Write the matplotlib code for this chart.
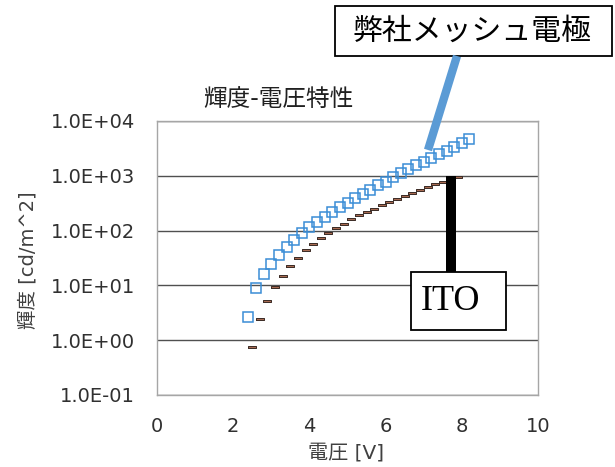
import matplotlib
matplotlib.use("Agg")
import matplotlib.pyplot as plt
from matplotlib.lines import Line2D
from matplotlib.patches import Rectangle
from matplotlib.ticker import FixedLocator, FixedFormatter

plt.rcParams['font.family'] = ['DejaVu Sans', 'Noto Sans CJK JP']

# Mesh electrode data (voltage [V], luminance [cd/m^2])
mesh_v = [2.4, 2.6, 2.8, 3.0, 3.2, 3.4, 3.6, 3.8, 4.0, 4.2,
          4.4, 4.6, 4.8, 5.0, 5.2, 5.4, 5.6, 5.8, 6.0, 6.2,
          6.4, 6.6, 6.8, 7.0, 7.2, 7.4, 7.6, 7.8, 8.0, 8.2]
mesh_l = [2.7, 8.9, 16, 25, 36, 51, 67, 89, 115, 143,
          179, 221, 266, 323, 393, 466, 551, 671, 781, 939,
          1110, 1320, 1560, 1810, 2140, 2470, 2840, 3400, 4020, 4700]

# ITO data
ito_v = [2.5, 2.7, 2.9, 3.1, 3.3, 3.5, 3.7, 3.9, 4.1, 4.3,
         4.5, 4.7, 4.9, 5.1, 5.3, 5.5, 5.7, 5.9, 6.1, 6.3,
         6.5, 6.7, 6.9, 7.1, 7.3, 7.5, 7.7, 7.9]
ito_l = [0.76, 2.47, 5.2, 9.5, 14.7, 22.3, 32, 43.7, 57, 74,
         90, 110, 132, 161, 190, 218, 251, 293, 337, 377,
         423, 486, 551, 617, 708, 780, 855, 940]

y_ticks = [1e-1, 1e0, 1e1, 1e2, 1e3, 1e4]
y_labels = ["1.0E-01", "1.0E+00", "1.0E+01", "1.0E+02", "1.0E+03", "1.0E+04"]
x_ticks = [0, 2, 4, 6, 8, 10]

W, H = 615, 467
fig = plt.figure(figsize=(W / 100, H / 100), dpi=100)
ax = fig.add_axes([157 / W, 72 / H, 381 / W, 274 / H])

ax.set_yscale('log')
ax.set_xlim(0, 10)
ax.set_ylim(1e-1, 1e4)
ax.yaxis.set_major_locator(FixedLocator(y_ticks))
ax.yaxis.set_major_formatter(FixedFormatter(y_labels))
ax.yaxis.set_minor_locator(FixedLocator([]))
ax.set_xticks(x_ticks)
ax.tick_params(length=0, labelsize=14, colors='#303030')
ax.tick_params(axis='y', pad=16)
ax.tick_params(axis='x', pad=16)
ax.grid(axis='y', color='#505050', lw=1)
ax.set_axisbelow(True)
for s in ax.spines.values():
    s.set_color('#a6a6a6')
    s.set_linewidth(1)

dash = [(-4, -1.3), (4, -1.3), (4, 1.3), (-4, 1.3), (-4, -1.3)]
ax.plot(ito_v, ito_l, ls='none', marker=dash, markersize=6,
        markerfacecolor='#a86b52', markeredgecolor='#3a2a24', markeredgewidth=0.7)
ax.plot(mesh_v, mesh_l, ls='none', marker='s', markersize=7.8,
        markerfacecolor='none', markeredgecolor='#3a8dd6', markeredgewidth=1.1)

ax.set_xlabel("電圧 [V]", fontsize=14.5, color='#404040', va='center')
ax.xaxis.set_label_coords(0.497, -(453 - 395) / 274)
ax.set_ylabel("輝度 [cd/m^2]", fontsize=14, color='#404040', va='center')
ax.yaxis.set_label_coords((28 - 157) / 381, (395 - 260) / 274)
fig.text(278 / W, 1 - 99 / H, "輝度-電圧特性", fontsize=17, ha='center', va='center',
         color='#202020')


def px(x, y):
    return x / W, 1 - y / H


# callout lines
fig.add_artist(Line2D([457 / W, 428 / W], [1 - 56 / H, 1 - 150 / H],
                      color='#5b9bd5', lw=6, solid_capstyle='butt'))
fig.add_artist(Line2D([451 / W, 451 / W], [1 - 176 / H, 1 - 272 / H],
                      color='black', lw=7.2, solid_capstyle='butt'))

# callout boxes
fig.add_artist(Rectangle(px(335, 56), 277 / W, 50 / H, transform=fig.transFigure,
                         facecolor='white', edgecolor='black', lw=1.3))
fig.text(*px(472, 31), "弊社メッシュ電極", fontsize=21.5, ha='center', va='center',
         family=['Noto Sans CJK JP'])
fig.add_artist(Rectangle(px(411, 330), 95 / W, 58 / H, transform=fig.transFigure,
                         facecolor='white', edgecolor='black', lw=1.3))
fig.text(*px(450, 301), "ITO", fontsize=26, ha='center', va='center',
         family=['Liberation Serif'])

fig.savefig("out.png", dpi=100)
